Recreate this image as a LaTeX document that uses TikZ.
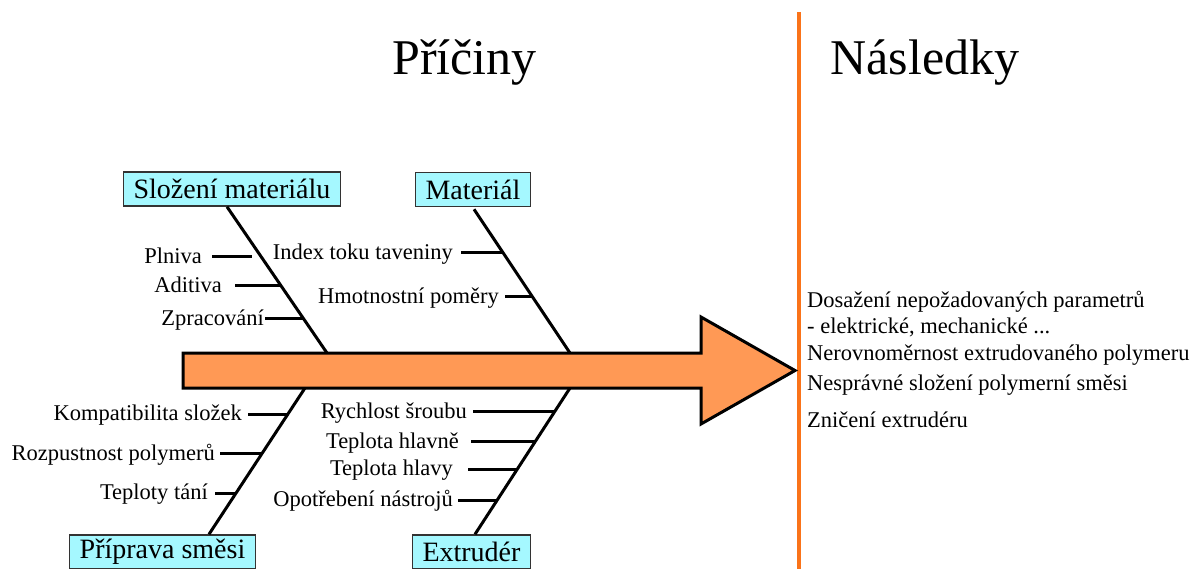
\documentclass[tikz,border=0pt]{standalone}
\usepackage{fontspec}
\setmainfont{Liberation Serif}
\usepackage{xcolor}

\definecolor{boxcyan}{RGB}{165,248,255}
\definecolor{arroworange}{RGB}{255,153,85}
\definecolor{lineorange}{RGB}{250,115,25}

\begin{document}
\begin{tikzpicture}[x=1pt, y=-1pt,
  category/.style={draw=black!80, line width=1.5pt, fill=boxcyan, inner xsep=10pt, inner ysep=0pt,
    minimum height=34pt, font=\fontsize{28}{32}\selectfont},
  cause/.style={inner sep=0pt, anchor=base east, font=\fontsize{22.5}{27}\selectfont},
  effect/.style={inner sep=0pt, anchor=base west, font=\fontsize{22.5}{27}\selectfont},
  heading/.style={inner sep=0pt, anchor=base, font=\fontsize{50}{60}\selectfont},
  bone/.style={line width=3pt},
  rib/.style={line width=3pt}]

  \useasboundingbox (0,0) rectangle (1196,568);

  % Headings
  \node[heading] (priciny) at (464.5,74) {Příčiny};
  \node[heading] (nasledky) at (925,74) {Následky};

  % Dividing line
  \coordinate (divtop) at (799,12);
  \coordinate (divbot) at (799,570);
  \draw[line width=4pt, lineorange] (divtop) -- (divbot);

  % Category boxes
  \node[category] (slozeni) at (232,189) {Složení materiálu};
  \node[category] (material) at (473,189.5) {Materiál};
  \node[category] (priprava) at (162.5,552) {Příprava směsi};
  \node[category] (extruder) at (471.5,552) {Extrudér};

  % Spine points
  \coordinate (s1) at (327,353);
  \coordinate (s2) at (570,353);
  \coordinate (s3) at (305,388);
  \coordinate (s4) at (570,388);

  % Bones
  \draw[bone] ([xshift=-5pt]slozeni.south) -- (s1)
    coordinate[pos=0.342] (pPlniva)
    coordinate[pos=0.541] (pAditiva)
    coordinate[pos=0.767] (pZpracovani);
  \draw[bone] ([xshift=1pt,yshift=-2pt]material.south) -- (s2)
    coordinate[pos=0.304] (pIndex)
    coordinate[pos=0.610] (pHmotnost);
  \draw[bone] (s3) -- ([xshift=46.5pt]priprava.north)
    coordinate[pos=0.178] (pKompat)
    coordinate[pos=0.451] (pRozpust)
    coordinate[pos=0.718] (pTaveni);
  \draw[bone] (s4) -- ([xshift=3.5pt]extruder.north)
    coordinate[pos=0.164] (pRychlost)
    coordinate[pos=0.369] (pHlavne)
    coordinate[pos=0.554] (pHlavy)
    coordinate[pos=0.766] (pOpotreb);

  % Causes
  \node[cause] (plniva) at (202,263.5) {Plniva};
  \node[cause] (aditiva) at (222,292.5) {Aditiva};
  \node[cause] (zpracovani) at (264,325.5) {Zpracování};
  \node[cause] (index) at (453,259.5) {Index toku taveniny};
  \node[cause] (hmotnost) at (499,303.5) {Hmotnostní poměry};
  \node[cause] (kompat) at (242,420.5) {Kompatibilita složek};
  \node[cause] (rozpust) at (215,460.5) {Rozpustnost polymerů};
  \node[cause] (taveni) at (208,499.5) {Teploty tání};
  \node[cause] (rychlost) at (467,418.5) {Rychlost šroubu};
  \node[cause] (hlavne) at (459,448.5) {Teplota hlavně};
  \node[cause] (hlavy) at (453,475.5) {Teplota hlavy};
  \node[cause] (opotreb) at (453,506.5) {Opotřebení nástrojů};

  % Ribs
  \draw[rib] (plniva.base east |- pPlniva) ++(10,0) -- ([xshift=-9pt]pPlniva);
  \draw[rib] (aditiva.base east |- pAditiva) ++(13,0) -- (pAditiva);
  \draw[rib] (zpracovani.base east |- pZpracovani) ++(1,0) -- (pZpracovani);
  \draw[rib] (index.base east |- pIndex) ++(8,0) -- (pIndex);
  \draw[rib] (hmotnost.base east |- pHmotnost) ++(6,0) -- (pHmotnost);
  \draw[rib] (kompat.base east |- pKompat) ++(6,0) -- (pKompat);
  \draw[rib] (rozpust.base east |- pRozpust) ++(5,0) -- (pRozpust);
  \draw[rib] (taveni.base east |- pTaveni) ++(7,0) -- (pTaveni);
  \draw[rib] (rychlost.base east |- pRychlost) ++(6,0) -- (pRychlost);
  \draw[rib] (hlavne.base east |- pHlavne) ++(12,0) -- (pHlavne);
  \draw[rib] (hlavy.base east |- pHlavy) ++(15,0) -- (pHlavy);
  \draw[rib] (opotreb.base east |- pOpotreb) ++(5,0) -- (pOpotreb);

  % Main arrow
  \draw[line width=3pt, fill=arroworange] (183,353) -- (701,353) -- (701,317)
    -- (795,370.5) -- (701,424) -- (701,388) -- (183,388) -- cycle;

  % Effects
  \node[effect] (dosazeni) at (807,307) {Dosažení nepožadovaných parametrů};
  \node[effect] (vlastnosti) at (807,333) {- elektrické, mechanické ...};
  \node[effect] (nerovnomernost) at (807,360) {Nerovnoměrnost extrudovaného polymeru};
  \node[effect] (slozeni2) at (807,390) {Nesprávné složení polymerní směsi};
  \node[effect] (zniceni) at (807,427) {Zničení extrudéru};

\end{tikzpicture}
\end{document}
